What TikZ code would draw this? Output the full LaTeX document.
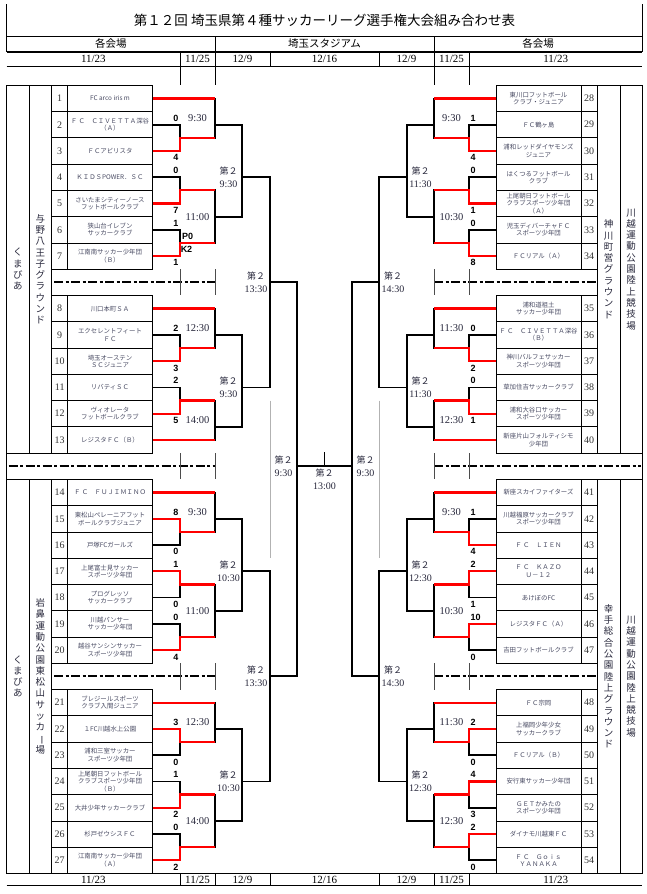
\documentclass[tikz,border=0pt]{standalone}
\usepackage{fontspec}
\setmainfont{Liberation Serif}
\newfontfamily\jp{Noto Sans CJK JP}
\newfontfamily\scfont{Liberation Sans}
\definecolor{namecol}{RGB}{72,74,98}
\definecolor{labcol}{RGB}{40,40,60}
\newcommand\Jy[1]{85.3+(#1)*13.135}
\tikzset{
 blk/.style={line width=1.8pt, black, line cap=rect},
 redl/.style={line width=2.2pt, red},
 thinl/.style={line width=0.7pt, black},
 namebox/.style={draw, line width=0.7pt, minimum width=84.6pt, minimum height=26.27pt, inner sep=0pt, align=center, font=\jp\fontsize{6.4}{7.4}\selectfont, text=namecol},
 numbox/.style={draw, line width=0.7pt, minimum width=16pt, minimum height=26.27pt, inner sep=0pt, font=\fontsize{10}{10}\selectfont, text=black!80},
 score/.style={font=\scfont\bfseries\fontsize{9}{9}\selectfont, inner sep=0pt},
 tlab/.style={font=\fontsize{10.5}{10.5}\selectfont, text=labcol, inner sep=0pt},
 r2lab/.style={align=center, inner sep=0pt, text=labcol, font=\fontsize{10}{13}\selectfont},
 vtext/.style={align=center, inner sep=0pt, font=\jp\fontsize{9.5}{11.3}\selectfont, text=labcol},
 hdr/.style={font=\jp\fontsize{10.5}{10.5}\selectfont, inner sep=0pt},
 datet/.style={font=\fontsize{11}{11}\selectfont, inner sep=0pt},
 sepl/.style={line width=1.8pt, dash pattern=on 9pt off 2.5pt on 3pt off 2.5pt},
 tickl/.style={line width=0.8pt, black!70},
 grayl/.style={line width=0.8pt, black!30},
}
\newcommand\teamL[3]{\node[numbox] (n#1) at (59.7,{\Jy{#2}}) {#1};
  \node[namebox] (t#1) at (110,{\Jy{#2}}) {#3};}
\newcommand\teamR[3]{\node[numbox] (n#1) at (589.15,{\Jy{#2}}) {#1};
  \node[namebox, minimum width=85pt] (t#1) at (538.5,{\Jy{#2}}) {#3};}
% left pairs: #1 upper, #2 lower, #3 j of upper
\newcommand\PLu[3]{\draw[blk] (t#2.east) -- (180,{\Jy{#3+2}}) -- (180,{\Jy{#3+1}});
  \draw[redl] (t#1.east) -- (180,{\Jy{#3}}) -- (180,{\Jy{#3+1}}) -- (215,{\Jy{#3+1}});}
\newcommand\PLl[3]{\draw[blk] (t#1.east) -- (180,{\Jy{#3}}) -- (180,{\Jy{#3+1}});
  \draw[redl] (t#2.east) -- (180,{\Jy{#3+2}}) -- (180,{\Jy{#3+1}}) -- (215,{\Jy{#3+1}});}
\newcommand\PRu[3]{\draw[blk] (t#2.west) -- (469,{\Jy{#3+2}}) -- (469,{\Jy{#3+1}});
  \draw[redl] (t#1.west) -- (469,{\Jy{#3}}) -- (469,{\Jy{#3+1}}) -- (434,{\Jy{#3+1}});}
\newcommand\PRl[3]{\draw[blk] (t#1.west) -- (469,{\Jy{#3}}) -- (469,{\Jy{#3+1}});
  \draw[redl] (t#2.west) -- (469,{\Jy{#3+2}}) -- (469,{\Jy{#3+1}}) -- (434,{\Jy{#3+1}});}
\newcommand\ByeL[2]{\draw[redl] (t#1.east) -- (215,{\Jy{#2}});}
\newcommand\ByeR[2]{\draw[redl] (t#1.west) -- (434,{\Jy{#2}});}
% match: x, jtop, jbot, jout, xout
\newcommand\Mv[5]{\draw[blk] (#1,{\Jy{#2}}) -- (#1,{\Jy{#3}}); \draw[blk] (#1,{\Jy{#4}}) -- (#5,{\Jy{#4}});}
\newcommand\ScL[3]{\node[score,anchor=east] at (178.5,{\Jy{#1}-6.8}) {#2};
  \node[score,anchor=east] at (178.5,{\Jy{#1+2}+6.8}) {#3};}
\newcommand\ScR[3]{\node[score,anchor=west] at (470.5,{\Jy{#1}-6.8}) {#2};
  \node[score,anchor=west] at (470.5,{\Jy{#1+2}+6.8}) {#3};}
\newcommand\Tl[3]{\node[tlab] at (#1,{\Jy{#2}}) {#3};}
\newcommand\Rl[3]{\node[r2lab] at (#1,{\Jy{#2}}) {{\jp\fontsize{9}{13}\selectfont 第２}\\#3};}
\newcommand\vbar{\rotatebox[origin=c]{-90}{ー}}
\begin{document}
\begin{tikzpicture}[x=1pt,y=-1pt]
\useasboundingbox (0,0) rectangle (646,894);
\fill[white] (0,0) rectangle (646,894);
% ---------- header ----------
\node[font=\jp\fontsize{13.5}{13.5}\selectfont, inner sep=0pt] (title) at (324.5,20.7) {第１２回 埼玉県第４種サッカーリーグ選手権大会組み合わせ表};
\draw[thinl] (6.7,4) -- (6.7,51.7);
\draw[thinl] (642.3,4) -- (642.3,51.7);
\draw[thinl] (6.7,36) -- (642.3,36);
\draw[line width=1.6pt] (6.7,51.7) -- (642.3,51.7);
\draw[thinl] (215,36) -- (215,51.7);
\draw[thinl] (434,36) -- (434,51.7);
\node[hdr] (h1) at (110.8,43.8) {各会場};
\node[hdr] (h2) at (324.5,43.8) {埼玉スタジアム};
\node[hdr] (h3) at (538,43.8) {各会場};
\foreach \x in {180,215,270,379,434,469} {\draw[thinl] (\x,51.7) -- (\x,66.7);}
\draw[thinl] (6.7,66.7) -- (642.3,66.7);
\foreach \x in {180,215,434,469} {\draw[thinl] (\x,66.7) -- (\x,85.3);}
\node[datet] (d1) at (93.4,59.4) {11/23};
\node[datet] (d2) at (197.5,59.4) {11/25};
\node[datet] (d3) at (242.5,59.4) {12/9};
\node[datet] (d4) at (324.5,59.4) {12/16};
\node[datet] (d5) at (406.5,59.4) {12/9};
\node[datet] (d6) at (451.5,59.4) {11/25};
\node[datet] (d7) at (555.7,59.4) {11/23};
% ---------- footer ----------
\draw[thinl] (6.7,873.4) -- (642.3,873.4);
\draw[thinl] (6.7,885.7) -- (642.3,885.7);
\foreach \x in {180,215,270,379,434,469} {\draw[thinl] (\x,873.4) -- (\x,885.7);}
\node[datet] (f1) at (93.4,879.6) {11/23};
\node[datet] (f2) at (197.5,879.6) {11/25};
\node[datet] (f3) at (242.5,879.6) {12/9};
\node[datet] (f4) at (324.5,879.6) {12/16};
\node[datet] (f5) at (406.5,879.6) {12/9};
\node[datet] (f6) at (451.5,879.6) {11/25};
\node[datet] (f7) at (555.7,879.6) {11/23};
% ---------- frames and venue columns ----------
\draw[thinl] (6.7,85.3) -- (6.7,873.4);
\draw[thinl] (642.3,85.3) -- (642.3,873.4);
\draw[thinl] (6.7,{\Jy{0}}) rectangle (29,{\Jy{28}});
\draw[thinl] (29,{\Jy{0}}) rectangle (51.7,{\Jy{28}});
\draw[thinl] (6.7,{\Jy{30}}) rectangle (29,{\Jy{60}});
\draw[thinl] (29,{\Jy{30}}) rectangle (51.7,{\Jy{60}});
\draw[thinl] (620,{\Jy{0}}) rectangle (642.3,{\Jy{28}});
\draw[thinl] (597.3,{\Jy{0}}) rectangle (620,{\Jy{28}});
\draw[thinl] (620,{\Jy{30}}) rectangle (642.3,{\Jy{60}});
\draw[thinl] (597.3,{\Jy{30}}) rectangle (620,{\Jy{60}});
\node[vtext] (va) at (17.9,{\Jy{14}}) {く\\ま\\び\\あ};
\node[vtext] (vb) at (40.4,{\Jy{14}}) {与\\野\\八\\王\\子\\グ\\ラ\\ウ\\ン\\ド};
\node[vtext] (vc) at (17.9,{\Jy{45}}) {く\\ま\\び\\あ};
\node[vtext] (vd) at (40.4,{\Jy{45}}) {岩\\鼻\\運\\動\\公\\園\\東\\松\\山\\サ\\ッ\\カ\\\vbar\\場};
\node[vtext] (ve) at (631.2,{\Jy{14}}) {川\\越\\運\\動\\公\\園\\陸\\上\\競\\技\\場};
\node[vtext] (vf) at (608.7,{\Jy{14}}) {神\\川\\町\\営\\グ\\ラ\\ウ\\ン\\ド};
\node[vtext] (vg) at (631.2,{\Jy{45}}) {川\\越\\運\\動\\公\\園\\陸\\上\\競\\技\\場};
\node[vtext] (vh) at (608.7,{\Jy{45}}) {幸\\手\\総\\合\\公\\園\\陸\\上\\グ\\ラ\\ウ\\ン\\ド};
% ---------- separators ----------
\draw[sepl] (54,{\Jy{15}}) -- (215,{\Jy{15}});
\draw[sepl] (8.5,{\Jy{29}}) -- (215,{\Jy{29}});
\draw[sepl] (54,{\Jy{45}}) -- (215,{\Jy{45}});
\draw[sepl] (434,{\Jy{15}}) -- (595.5,{\Jy{15}});
\draw[sepl] (434,{\Jy{29}}) -- (640.5,{\Jy{29}});
\draw[sepl] (434,{\Jy{45}}) -- (595.5,{\Jy{45}});
\foreach \x in {180,215,434,469} {
  \draw[tickl] (\x,{\Jy{14}}) -- (\x,{\Jy{16}});
  \draw[tickl] (\x,{\Jy{28}}) -- (\x,{\Jy{30}});
  \draw[tickl] (\x,{\Jy{44}}) -- (\x,{\Jy{46}});
}
\draw[grayl] (270,{\Jy{24}}) -- (270,{\Jy{36}});
\draw[grayl] (379,{\Jy{24}}) -- (379,{\Jy{36}});
% ---------- teams left ----------
\teamL{1}{1}{FC arco iris m}
\teamL{2}{3}{Ｆ Ｃ　ＣＩＶＥＴＴＡ深谷\\（Ａ）}
\teamL{3}{5}{ＦＣアビリスタ}
\teamL{4}{7}{ＫＩＤＳPOWER．ＳＣ}
\teamL{5}{9}{さいたまシティーノース\\フットボールクラブ}
\teamL{6}{11}{狭山台イレブン\\サッカークラブ}
\teamL{7}{13}{江南南サッカー少年団\\（Ｂ）}
\teamL{8}{17}{川口本町ＳＡ}
\teamL{9}{19}{エクセレントフィート\\ＦＣ}
\teamL{10}{21}{埼玉オーステン\\ＳＣジュニア}
\teamL{11}{23}{リバティＳＣ}
\teamL{12}{25}{ヴィオレータ\\フットボールクラブ}
\teamL{13}{27}{レジスタＦＣ（Ｂ）}
\teamL{14}{31}{Ｆ Ｃ　ＦＵＪＩＭＩＮＯ}
\teamL{15}{33}{東松山ペレーニアフット\\ボールクラブジュニア}
\teamL{16}{35}{戸塚FCガールズ}
\teamL{17}{37}{上尾富士見サッカー\\スポーツ少年団}
\teamL{18}{39}{プログレッソ\\サッカークラブ}
\teamL{19}{41}{川越パンサー\\サッカー少年団}
\teamL{20}{43}{越谷サンシンサッカー\\スポーツ少年団}
\teamL{21}{47}{ブレジールスポーツ\\クラブ入間ジュニア}
\teamL{22}{49}{１FC川越水上公園}
\teamL{23}{51}{浦和三室サッカー\\スポーツ少年団}
\teamL{24}{53}{上尾朝日フットボール\\クラブスポーツ少年団\\（Ｂ）}
\teamL{25}{55}{大井少年サッカークラブ}
\teamL{26}{57}{杉戸ゼウシスＦＣ}
\teamL{27}{59}{江南南サッカー少年団\\（Ａ）}
% ---------- teams right ----------
\teamR{28}{1}{東川口フットボール\\クラブ・ジュニア}
\teamR{29}{3}{ＦＣ鶴ヶ島}
\teamR{30}{5}{浦和レッドダイヤモンズ\\ジュニア}
\teamR{31}{7}{はくつるフットボール\\クラブ}
\teamR{32}{9}{上尾朝日フットボール\\クラブスポーツ少年団\\（Ａ）}
\teamR{33}{11}{児玉ディバーチャＦＣ\\スポーツ少年団}
\teamR{34}{13}{ＦＣリアル（Ａ）}
\teamR{35}{17}{浦和道祖土\\サッカー少年団}
\teamR{36}{19}{Ｆ Ｃ　ＣＩＶＥＴＴＡ深谷\\（Ｂ）}
\teamR{37}{21}{神川バルフェサッカー\\スポーツ少年団}
\teamR{38}{23}{草加住吉サッカークラブ}
\teamR{39}{25}{浦和大谷口サッカー\\スポーツ少年団}
\teamR{40}{27}{新座片山フォルティシモ\\少年団}
\teamR{41}{31}{新座スカイファイターズ}
\teamR{42}{33}{川越福原サッカークラブ\\スポーツ少年団}
\teamR{43}{35}{Ｆ Ｃ　ＬＩＥＮ}
\teamR{44}{37}{Ｆ Ｃ　ＫＡＺＯ\\Ｕ－１２}
\teamR{45}{39}{あけぼのFC}
\teamR{46}{41}{レジスタＦＣ（Ａ）}
\teamR{47}{43}{吉田フットボールクラブ}
\teamR{48}{47}{ＦＣ宗岡}
\teamR{49}{49}{上福岡少年少女\\サッカークラブ}
\teamR{50}{51}{ＦＣリアル（Ｂ）}
\teamR{51}{53}{安行東サッカー少年団}
\teamR{52}{55}{ＧＥＴかみたの\\スポーツ少年団}
\teamR{53}{57}{ダイナモ川越東ＦＣ}
\teamR{54}{59}{Ｆ Ｃ　Ｇｏｉｓ\\ＹＡＮＡＫＡ}
% ---------- bracket left: black structure ----------
\Mv{215}{1}{4}{3}{242}
\Mv{215}{8}{12}{10}{242}
\Mv{242}{3}{10}{7}{270}
\Mv{215}{17}{20}{19}{242}
\Mv{215}{24}{27}{26}{242}
\Mv{242}{19}{26}{23}{270}
\Mv{270}{7}{23}{15}{297}
\Mv{215}{31}{34}{33}{242}
\Mv{215}{38}{42}{40}{242}
\Mv{242}{33}{40}{37}{270}
\Mv{215}{47}{50}{49}{242}
\Mv{215}{54}{58}{56}{242}
\Mv{242}{49}{56}{53}{270}
\Mv{270}{37}{53}{45}{297}
\draw[blk] (297,{\Jy{15}}) -- (297,{\Jy{45}});
% ---------- bracket right: black structure ----------
\Mv{434}{1}{4}{3}{407}
\Mv{434}{8}{12}{10}{407}
\Mv{407}{3}{10}{7}{379}
\Mv{434}{17}{20}{19}{407}
\Mv{434}{24}{27}{26}{407}
\Mv{407}{19}{26}{23}{379}
\Mv{379}{7}{23}{15}{352}
\Mv{434}{31}{34}{33}{407}
\Mv{434}{38}{42}{40}{407}
\Mv{407}{33}{40}{37}{379}
\Mv{434}{47}{50}{49}{407}
\Mv{434}{54}{58}{56}{407}
\Mv{407}{49}{56}{53}{379}
\Mv{379}{37}{53}{45}{352}
\draw[blk] (352,{\Jy{15}}) -- (352,{\Jy{45}});
% final
\coordinate (finL) at (297,{\Jy{29}});
\coordinate (finR) at (352,{\Jy{29}});
\coordinate (finT) at (324.5,{\Jy{28}});
\coordinate (finM) at (324.5,{\Jy{29}});
\draw[blk] (finL) -- (finR);
\draw[blk] (finT) -- (finM);
% ---------- first round, left ----------
\ByeL{1}{1}
\PLl{2}{3}{3}
\PLl{4}{5}{7}
\PLl{6}{7}{11}
\ByeL{8}{17}
\PLl{9}{10}{19}
\PLl{11}{12}{23}
\ByeL{13}{27}
\ByeL{14}{31}
\PLu{15}{16}{33}
\PLu{17}{18}{37}
\PLl{19}{20}{41}
\ByeL{21}{47}
\PLu{22}{23}{49}
\PLl{24}{25}{53}
\PLl{26}{27}{57}
% ---------- first round, right ----------
\ByeR{28}{1}
\PRl{29}{30}{3}
\PRl{31}{32}{7}
\PRl{33}{34}{11}
\ByeR{35}{17}
\PRl{36}{37}{19}
\PRl{38}{39}{23}
\ByeR{40}{27}
\ByeR{41}{31}
\PRl{42}{43}{33}
\PRu{44}{45}{37}
\PRu{46}{47}{41}
\ByeR{48}{47}
\PRu{49}{50}{49}
\PRu{51}{52}{53}
\PRu{53}{54}{57}
% ---------- scores ----------
\ScL{3}{0}{4}
\ScL{7}{0}{7}
\ScL{11}{1}{1}
\ScL{19}{2}{3}
\ScL{23}{2}{5}
\ScL{33}{8}{0}
\ScL{37}{1}{0}
\ScL{41}{0}{4}
\ScL{49}{3}{0}
\ScL{53}{1}{2}
\ScL{57}{0}{2}
\node[score] (pk1) at (187.7,{\Jy{11}+6.4}) {P0};
\node[score] (pk2) at (186.5,{\Jy{13}-6.4}) {K2};
\ScR{3}{1}{4}
\ScR{7}{0}{1}
\ScR{11}{0}{8}
\ScR{19}{0}{2}
\ScR{23}{0}{1}
\ScR{33}{1}{4}
\ScR{37}{2}{1}
\ScR{41}{10}{0}
\ScR{49}{2}{0}
\ScR{53}{4}{3}
\ScR{57}{2}{0}
% ---------- time labels ----------
\Tl{197.5}{2.5}{9:30}
\Tl{197.5}{10}{11:00}
\Tl{197.5}{18.5}{12:30}
\Tl{197.5}{25.5}{14:00}
\Tl{197.5}{32.5}{9:30}
\Tl{197.5}{40}{11:00}
\Tl{197.5}{48.5}{12:30}
\Tl{197.5}{56}{14:00}
\Tl{451.5}{2.5}{9:30}
\Tl{451.5}{10}{10:30}
\Tl{451.5}{18.5}{11:30}
\Tl{451.5}{25.5}{12:30}
\Tl{451.5}{32.5}{9:30}
\Tl{451.5}{40}{10:30}
\Tl{451.5}{48.5}{11:30}
\Tl{451.5}{56}{12:30}
\Rl{228.5}{7}{9:30}
\Rl{228.5}{23}{9:30}
\Rl{228.5}{37}{10:30}
\Rl{228.5}{53}{10:30}
\Rl{420.5}{7}{11:30}
\Rl{420.5}{23}{11:30}
\Rl{420.5}{37}{12:30}
\Rl{420.5}{53}{12:30}
\Rl{256}{15}{13:30}
\Rl{256}{45}{13:30}
\Rl{393}{15}{14:30}
\Rl{393}{45}{14:30}
\Rl{283.5}{29}{9:30}
\Rl{365.5}{29}{9:30}
\Rl{324.5}{30}{13:00}
\end{tikzpicture}
\end{document}
